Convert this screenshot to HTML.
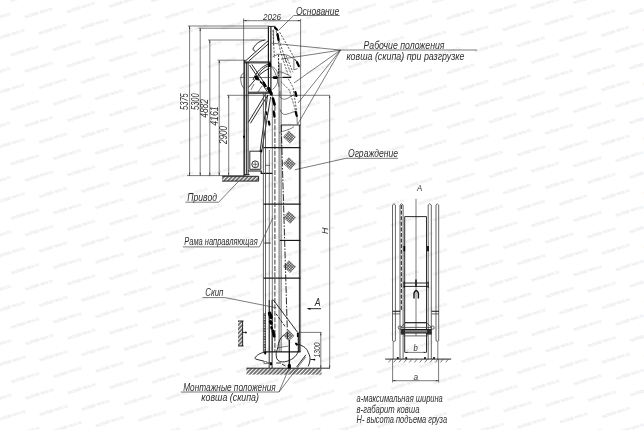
<!DOCTYPE html>
<html><head><meta charset="utf-8">
<style>
html,body{margin:0;padding:0;background:#fff;}
body{width:644px;height:430px;overflow:hidden;}
svg{display:block;}
text{font-family:"Liberation Sans",sans-serif;font-style:italic;fill:#303030;}
.t{stroke:#2a2a2a;stroke-width:.62;fill:none;}
.m{stroke:#151515;stroke-width:.9;fill:none;}
.k{stroke:#1a1a1a;stroke-width:1.15;fill:none;}
.g{stroke:#4a4a4a;stroke-width:.85;fill:none;}
.d{stroke:#222;stroke-width:.7;fill:none;stroke-dasharray:2.2 1.2;}
.wm text{font-style:normal;fill:#e4e4e4;font-size:5px;}
</style></head><body>
<svg width="644" height="430" viewBox="0 0 644 430">
<defs>
<pattern id="hz" width="2.83" height="2.83" patternUnits="userSpaceOnUse" patternTransform="rotate(44)"><line x1="1" y1="0" x2="1" y2="2.83" stroke="#4a4a4a" stroke-width="1.45"/></pattern>
<pattern id="mesh" width="1.9" height="1.9" patternUnits="userSpaceOnUse"><path d="M0 .5H1.9M.5 0V1.9" stroke="#2a2a2a" stroke-width=".62" fill="none"/></pattern>
</defs>
<rect width="644" height="430" fill="#fff"/>
<!-- watermark -->
<g class="wm" text-anchor="middle" opacity=".999">
<text transform="translate(347.8 -7.9) rotate(-18)" y="1.5" textLength="29" lengthAdjust="spacingAndGlyphs">techlab-tera.ru</text>
<text transform="translate(488.4 -7.4) rotate(-18)" y="1.5" textLength="29" lengthAdjust="spacingAndGlyphs">techlab-tera.ru</text>
<text transform="translate(629.0 -6.8) rotate(-18)" y="1.5" textLength="29" lengthAdjust="spacingAndGlyphs">techlab-tera.ru</text>
<text transform="translate(24.4 -3.7) rotate(-18)" y="1.5" textLength="29" lengthAdjust="spacingAndGlyphs">techlab-tera.ru</text>
<text transform="translate(165.0 -3.2) rotate(-18)" y="1.5" textLength="29" lengthAdjust="spacingAndGlyphs">techlab-tera.ru</text>
<text transform="translate(305.6 -2.6) rotate(-18)" y="1.5" textLength="29" lengthAdjust="spacingAndGlyphs">techlab-tera.ru</text>
<text transform="translate(446.2 -2.1) rotate(-18)" y="1.5" textLength="29" lengthAdjust="spacingAndGlyphs">techlab-tera.ru</text>
<text transform="translate(586.8 -1.5) rotate(-18)" y="1.5" textLength="29" lengthAdjust="spacingAndGlyphs">techlab-tera.ru</text>
<text transform="translate(-17.8 1.6) rotate(-18)" y="1.5" textLength="29" lengthAdjust="spacingAndGlyphs">techlab-tera.ru</text>
<text transform="translate(122.8 2.1) rotate(-18)" y="1.5" textLength="29" lengthAdjust="spacingAndGlyphs">techlab-tera.ru</text>
<text transform="translate(263.4 2.7) rotate(-18)" y="1.5" textLength="29" lengthAdjust="spacingAndGlyphs">techlab-tera.ru</text>
<text transform="translate(404.0 3.2) rotate(-18)" y="1.5" textLength="29" lengthAdjust="spacingAndGlyphs">techlab-tera.ru</text>
<text transform="translate(544.6 3.7) rotate(-18)" y="1.5" textLength="29" lengthAdjust="spacingAndGlyphs">techlab-tera.ru</text>
<text transform="translate(80.6 7.4) rotate(-18)" y="1.5" textLength="29" lengthAdjust="spacingAndGlyphs">techlab-tera.ru</text>
<text transform="translate(221.2 7.9) rotate(-18)" y="1.5" textLength="29" lengthAdjust="spacingAndGlyphs">techlab-tera.ru</text>
<text transform="translate(361.9 8.5) rotate(-18)" y="1.5" textLength="29" lengthAdjust="spacingAndGlyphs">techlab-tera.ru</text>
<text transform="translate(502.5 9.0) rotate(-18)" y="1.5" textLength="29" lengthAdjust="spacingAndGlyphs">techlab-tera.ru</text>
<text transform="translate(643.1 9.6) rotate(-18)" y="1.5" textLength="29" lengthAdjust="spacingAndGlyphs">techlab-tera.ru</text>
<text transform="translate(38.5 12.7) rotate(-18)" y="1.5" textLength="29" lengthAdjust="spacingAndGlyphs">techlab-tera.ru</text>
<text transform="translate(179.1 13.2) rotate(-18)" y="1.5" textLength="29" lengthAdjust="spacingAndGlyphs">techlab-tera.ru</text>
<text transform="translate(319.7 13.8) rotate(-18)" y="1.5" textLength="29" lengthAdjust="spacingAndGlyphs">techlab-tera.ru</text>
<text transform="translate(460.3 14.3) rotate(-18)" y="1.5" textLength="29" lengthAdjust="spacingAndGlyphs">techlab-tera.ru</text>
<text transform="translate(600.9 14.8) rotate(-18)" y="1.5" textLength="29" lengthAdjust="spacingAndGlyphs">techlab-tera.ru</text>
<text transform="translate(-3.7 18.0) rotate(-18)" y="1.5" textLength="29" lengthAdjust="spacingAndGlyphs">techlab-tera.ru</text>
<text transform="translate(136.9 18.5) rotate(-18)" y="1.5" textLength="29" lengthAdjust="spacingAndGlyphs">techlab-tera.ru</text>
<text transform="translate(277.5 19.0) rotate(-18)" y="1.5" textLength="29" lengthAdjust="spacingAndGlyphs">techlab-tera.ru</text>
<text transform="translate(418.1 19.6) rotate(-18)" y="1.5" textLength="29" lengthAdjust="spacingAndGlyphs">techlab-tera.ru</text>
<text transform="translate(558.7 20.1) rotate(-18)" y="1.5" textLength="29" lengthAdjust="spacingAndGlyphs">techlab-tera.ru</text>
<text transform="translate(94.7 23.8) rotate(-18)" y="1.5" textLength="29" lengthAdjust="spacingAndGlyphs">techlab-tera.ru</text>
<text transform="translate(235.3 24.3) rotate(-18)" y="1.5" textLength="29" lengthAdjust="spacingAndGlyphs">techlab-tera.ru</text>
<text transform="translate(376.0 24.9) rotate(-18)" y="1.5" textLength="29" lengthAdjust="spacingAndGlyphs">techlab-tera.ru</text>
<text transform="translate(516.6 25.4) rotate(-18)" y="1.5" textLength="29" lengthAdjust="spacingAndGlyphs">techlab-tera.ru</text>
<text transform="translate(657.2 26.0) rotate(-18)" y="1.5" textLength="29" lengthAdjust="spacingAndGlyphs">techlab-tera.ru</text>
<text transform="translate(52.5 29.1) rotate(-18)" y="1.5" textLength="29" lengthAdjust="spacingAndGlyphs">techlab-tera.ru</text>
<text transform="translate(193.2 29.6) rotate(-18)" y="1.5" textLength="29" lengthAdjust="spacingAndGlyphs">techlab-tera.ru</text>
<text transform="translate(333.8 30.2) rotate(-18)" y="1.5" textLength="29" lengthAdjust="spacingAndGlyphs">techlab-tera.ru</text>
<text transform="translate(474.4 30.7) rotate(-18)" y="1.5" textLength="29" lengthAdjust="spacingAndGlyphs">techlab-tera.ru</text>
<text transform="translate(615.0 31.2) rotate(-18)" y="1.5" textLength="29" lengthAdjust="spacingAndGlyphs">techlab-tera.ru</text>
<text transform="translate(10.4 34.4) rotate(-18)" y="1.5" textLength="29" lengthAdjust="spacingAndGlyphs">techlab-tera.ru</text>
<text transform="translate(151.0 34.9) rotate(-18)" y="1.5" textLength="29" lengthAdjust="spacingAndGlyphs">techlab-tera.ru</text>
<text transform="translate(291.6 35.4) rotate(-18)" y="1.5" textLength="29" lengthAdjust="spacingAndGlyphs">techlab-tera.ru</text>
<text transform="translate(432.2 36.0) rotate(-18)" y="1.5" textLength="29" lengthAdjust="spacingAndGlyphs">techlab-tera.ru</text>
<text transform="translate(572.8 36.5) rotate(-18)" y="1.5" textLength="29" lengthAdjust="spacingAndGlyphs">techlab-tera.ru</text>
<text transform="translate(108.8 40.2) rotate(-18)" y="1.5" textLength="29" lengthAdjust="spacingAndGlyphs">techlab-tera.ru</text>
<text transform="translate(249.4 40.7) rotate(-18)" y="1.5" textLength="29" lengthAdjust="spacingAndGlyphs">techlab-tera.ru</text>
<text transform="translate(390.1 41.3) rotate(-18)" y="1.5" textLength="29" lengthAdjust="spacingAndGlyphs">techlab-tera.ru</text>
<text transform="translate(530.7 41.8) rotate(-18)" y="1.5" textLength="29" lengthAdjust="spacingAndGlyphs">techlab-tera.ru</text>
<text transform="translate(66.6 45.5) rotate(-18)" y="1.5" textLength="29" lengthAdjust="spacingAndGlyphs">techlab-tera.ru</text>
<text transform="translate(207.3 46.0) rotate(-18)" y="1.5" textLength="29" lengthAdjust="spacingAndGlyphs">techlab-tera.ru</text>
<text transform="translate(347.9 46.5) rotate(-18)" y="1.5" textLength="29" lengthAdjust="spacingAndGlyphs">techlab-tera.ru</text>
<text transform="translate(488.5 47.1) rotate(-18)" y="1.5" textLength="29" lengthAdjust="spacingAndGlyphs">techlab-tera.ru</text>
<text transform="translate(629.1 47.6) rotate(-18)" y="1.5" textLength="29" lengthAdjust="spacingAndGlyphs">techlab-tera.ru</text>
<text transform="translate(24.5 50.7) rotate(-18)" y="1.5" textLength="29" lengthAdjust="spacingAndGlyphs">techlab-tera.ru</text>
<text transform="translate(165.1 51.3) rotate(-18)" y="1.5" textLength="29" lengthAdjust="spacingAndGlyphs">techlab-tera.ru</text>
<text transform="translate(305.7 51.8) rotate(-18)" y="1.5" textLength="29" lengthAdjust="spacingAndGlyphs">techlab-tera.ru</text>
<text transform="translate(446.3 52.4) rotate(-18)" y="1.5" textLength="29" lengthAdjust="spacingAndGlyphs">techlab-tera.ru</text>
<text transform="translate(586.9 52.9) rotate(-18)" y="1.5" textLength="29" lengthAdjust="spacingAndGlyphs">techlab-tera.ru</text>
<text transform="translate(-17.7 56.0) rotate(-18)" y="1.5" textLength="29" lengthAdjust="spacingAndGlyphs">techlab-tera.ru</text>
<text transform="translate(122.9 56.6) rotate(-18)" y="1.5" textLength="29" lengthAdjust="spacingAndGlyphs">techlab-tera.ru</text>
<text transform="translate(263.5 57.1) rotate(-18)" y="1.5" textLength="29" lengthAdjust="spacingAndGlyphs">techlab-tera.ru</text>
<text transform="translate(404.1 57.7) rotate(-18)" y="1.5" textLength="29" lengthAdjust="spacingAndGlyphs">techlab-tera.ru</text>
<text transform="translate(544.8 58.2) rotate(-18)" y="1.5" textLength="29" lengthAdjust="spacingAndGlyphs">techlab-tera.ru</text>
<text transform="translate(80.7 61.9) rotate(-18)" y="1.5" textLength="29" lengthAdjust="spacingAndGlyphs">techlab-tera.ru</text>
<text transform="translate(221.4 62.4) rotate(-18)" y="1.5" textLength="29" lengthAdjust="spacingAndGlyphs">techlab-tera.ru</text>
<text transform="translate(362.0 62.9) rotate(-18)" y="1.5" textLength="29" lengthAdjust="spacingAndGlyphs">techlab-tera.ru</text>
<text transform="translate(502.6 63.5) rotate(-18)" y="1.5" textLength="29" lengthAdjust="spacingAndGlyphs">techlab-tera.ru</text>
<text transform="translate(643.2 64.0) rotate(-18)" y="1.5" textLength="29" lengthAdjust="spacingAndGlyphs">techlab-tera.ru</text>
<text transform="translate(38.6 67.1) rotate(-18)" y="1.5" textLength="29" lengthAdjust="spacingAndGlyphs">techlab-tera.ru</text>
<text transform="translate(179.2 67.7) rotate(-18)" y="1.5" textLength="29" lengthAdjust="spacingAndGlyphs">techlab-tera.ru</text>
<text transform="translate(319.8 68.2) rotate(-18)" y="1.5" textLength="29" lengthAdjust="spacingAndGlyphs">techlab-tera.ru</text>
<text transform="translate(460.4 68.8) rotate(-18)" y="1.5" textLength="29" lengthAdjust="spacingAndGlyphs">techlab-tera.ru</text>
<text transform="translate(601.0 69.3) rotate(-18)" y="1.5" textLength="29" lengthAdjust="spacingAndGlyphs">techlab-tera.ru</text>
<text transform="translate(-3.6 72.4) rotate(-18)" y="1.5" textLength="29" lengthAdjust="spacingAndGlyphs">techlab-tera.ru</text>
<text transform="translate(137.0 73.0) rotate(-18)" y="1.5" textLength="29" lengthAdjust="spacingAndGlyphs">techlab-tera.ru</text>
<text transform="translate(277.6 73.5) rotate(-18)" y="1.5" textLength="29" lengthAdjust="spacingAndGlyphs">techlab-tera.ru</text>
<text transform="translate(418.2 74.0) rotate(-18)" y="1.5" textLength="29" lengthAdjust="spacingAndGlyphs">techlab-tera.ru</text>
<text transform="translate(558.9 74.6) rotate(-18)" y="1.5" textLength="29" lengthAdjust="spacingAndGlyphs">techlab-tera.ru</text>
<text transform="translate(94.8 78.2) rotate(-18)" y="1.5" textLength="29" lengthAdjust="spacingAndGlyphs">techlab-tera.ru</text>
<text transform="translate(235.5 78.8) rotate(-18)" y="1.5" textLength="29" lengthAdjust="spacingAndGlyphs">techlab-tera.ru</text>
<text transform="translate(376.1 79.3) rotate(-18)" y="1.5" textLength="29" lengthAdjust="spacingAndGlyphs">techlab-tera.ru</text>
<text transform="translate(516.7 79.9) rotate(-18)" y="1.5" textLength="29" lengthAdjust="spacingAndGlyphs">techlab-tera.ru</text>
<text transform="translate(657.3 80.4) rotate(-18)" y="1.5" textLength="29" lengthAdjust="spacingAndGlyphs">techlab-tera.ru</text>
<text transform="translate(52.7 83.5) rotate(-18)" y="1.5" textLength="29" lengthAdjust="spacingAndGlyphs">techlab-tera.ru</text>
<text transform="translate(193.3 84.1) rotate(-18)" y="1.5" textLength="29" lengthAdjust="spacingAndGlyphs">techlab-tera.ru</text>
<text transform="translate(333.9 84.6) rotate(-18)" y="1.5" textLength="29" lengthAdjust="spacingAndGlyphs">techlab-tera.ru</text>
<text transform="translate(474.5 85.1) rotate(-18)" y="1.5" textLength="29" lengthAdjust="spacingAndGlyphs">techlab-tera.ru</text>
<text transform="translate(615.1 85.7) rotate(-18)" y="1.5" textLength="29" lengthAdjust="spacingAndGlyphs">techlab-tera.ru</text>
<text transform="translate(10.5 88.8) rotate(-18)" y="1.5" textLength="29" lengthAdjust="spacingAndGlyphs">techlab-tera.ru</text>
<text transform="translate(151.1 89.4) rotate(-18)" y="1.5" textLength="29" lengthAdjust="spacingAndGlyphs">techlab-tera.ru</text>
<text transform="translate(291.7 89.9) rotate(-18)" y="1.5" textLength="29" lengthAdjust="spacingAndGlyphs">techlab-tera.ru</text>
<text transform="translate(432.3 90.4) rotate(-18)" y="1.5" textLength="29" lengthAdjust="spacingAndGlyphs">techlab-tera.ru</text>
<text transform="translate(573.0 91.0) rotate(-18)" y="1.5" textLength="29" lengthAdjust="spacingAndGlyphs">techlab-tera.ru</text>
<text transform="translate(108.9 94.6) rotate(-18)" y="1.5" textLength="29" lengthAdjust="spacingAndGlyphs">techlab-tera.ru</text>
<text transform="translate(249.6 95.2) rotate(-18)" y="1.5" textLength="29" lengthAdjust="spacingAndGlyphs">techlab-tera.ru</text>
<text transform="translate(390.2 95.7) rotate(-18)" y="1.5" textLength="29" lengthAdjust="spacingAndGlyphs">techlab-tera.ru</text>
<text transform="translate(530.8 96.3) rotate(-18)" y="1.5" textLength="29" lengthAdjust="spacingAndGlyphs">techlab-tera.ru</text>
<text transform="translate(66.8 99.9) rotate(-18)" y="1.5" textLength="29" lengthAdjust="spacingAndGlyphs">techlab-tera.ru</text>
<text transform="translate(207.4 100.5) rotate(-18)" y="1.5" textLength="29" lengthAdjust="spacingAndGlyphs">techlab-tera.ru</text>
<text transform="translate(348.0 101.0) rotate(-18)" y="1.5" textLength="29" lengthAdjust="spacingAndGlyphs">techlab-tera.ru</text>
<text transform="translate(488.6 101.5) rotate(-18)" y="1.5" textLength="29" lengthAdjust="spacingAndGlyphs">techlab-tera.ru</text>
<text transform="translate(629.2 102.1) rotate(-18)" y="1.5" textLength="29" lengthAdjust="spacingAndGlyphs">techlab-tera.ru</text>
<text transform="translate(24.6 105.2) rotate(-18)" y="1.5" textLength="29" lengthAdjust="spacingAndGlyphs">techlab-tera.ru</text>
<text transform="translate(165.2 105.7) rotate(-18)" y="1.5" textLength="29" lengthAdjust="spacingAndGlyphs">techlab-tera.ru</text>
<text transform="translate(305.8 106.3) rotate(-18)" y="1.5" textLength="29" lengthAdjust="spacingAndGlyphs">techlab-tera.ru</text>
<text transform="translate(446.4 106.8) rotate(-18)" y="1.5" textLength="29" lengthAdjust="spacingAndGlyphs">techlab-tera.ru</text>
<text transform="translate(587.1 107.4) rotate(-18)" y="1.5" textLength="29" lengthAdjust="spacingAndGlyphs">techlab-tera.ru</text>
<text transform="translate(-17.6 110.5) rotate(-18)" y="1.5" textLength="29" lengthAdjust="spacingAndGlyphs">techlab-tera.ru</text>
<text transform="translate(123.0 111.0) rotate(-18)" y="1.5" textLength="29" lengthAdjust="spacingAndGlyphs">techlab-tera.ru</text>
<text transform="translate(263.6 111.6) rotate(-18)" y="1.5" textLength="29" lengthAdjust="spacingAndGlyphs">techlab-tera.ru</text>
<text transform="translate(404.3 112.1) rotate(-18)" y="1.5" textLength="29" lengthAdjust="spacingAndGlyphs">techlab-tera.ru</text>
<text transform="translate(544.9 112.6) rotate(-18)" y="1.5" textLength="29" lengthAdjust="spacingAndGlyphs">techlab-tera.ru</text>
<text transform="translate(80.9 116.3) rotate(-18)" y="1.5" textLength="29" lengthAdjust="spacingAndGlyphs">techlab-tera.ru</text>
<text transform="translate(221.5 116.8) rotate(-18)" y="1.5" textLength="29" lengthAdjust="spacingAndGlyphs">techlab-tera.ru</text>
<text transform="translate(362.1 117.4) rotate(-18)" y="1.5" textLength="29" lengthAdjust="spacingAndGlyphs">techlab-tera.ru</text>
<text transform="translate(502.7 117.9) rotate(-18)" y="1.5" textLength="29" lengthAdjust="spacingAndGlyphs">techlab-tera.ru</text>
<text transform="translate(643.3 118.5) rotate(-18)" y="1.5" textLength="29" lengthAdjust="spacingAndGlyphs">techlab-tera.ru</text>
<text transform="translate(38.7 121.6) rotate(-18)" y="1.5" textLength="29" lengthAdjust="spacingAndGlyphs">techlab-tera.ru</text>
<text transform="translate(179.3 122.1) rotate(-18)" y="1.5" textLength="29" lengthAdjust="spacingAndGlyphs">techlab-tera.ru</text>
<text transform="translate(319.9 122.7) rotate(-18)" y="1.5" textLength="29" lengthAdjust="spacingAndGlyphs">techlab-tera.ru</text>
<text transform="translate(460.5 123.2) rotate(-18)" y="1.5" textLength="29" lengthAdjust="spacingAndGlyphs">techlab-tera.ru</text>
<text transform="translate(601.2 123.8) rotate(-18)" y="1.5" textLength="29" lengthAdjust="spacingAndGlyphs">techlab-tera.ru</text>
<text transform="translate(-3.5 126.9) rotate(-18)" y="1.5" textLength="29" lengthAdjust="spacingAndGlyphs">techlab-tera.ru</text>
<text transform="translate(137.1 127.4) rotate(-18)" y="1.5" textLength="29" lengthAdjust="spacingAndGlyphs">techlab-tera.ru</text>
<text transform="translate(277.7 128.0) rotate(-18)" y="1.5" textLength="29" lengthAdjust="spacingAndGlyphs">techlab-tera.ru</text>
<text transform="translate(418.4 128.5) rotate(-18)" y="1.5" textLength="29" lengthAdjust="spacingAndGlyphs">techlab-tera.ru</text>
<text transform="translate(559.0 129.0) rotate(-18)" y="1.5" textLength="29" lengthAdjust="spacingAndGlyphs">techlab-tera.ru</text>
<text transform="translate(95.0 132.7) rotate(-18)" y="1.5" textLength="29" lengthAdjust="spacingAndGlyphs">techlab-tera.ru</text>
<text transform="translate(235.6 133.2) rotate(-18)" y="1.5" textLength="29" lengthAdjust="spacingAndGlyphs">techlab-tera.ru</text>
<text transform="translate(376.2 133.8) rotate(-18)" y="1.5" textLength="29" lengthAdjust="spacingAndGlyphs">techlab-tera.ru</text>
<text transform="translate(516.8 134.3) rotate(-18)" y="1.5" textLength="29" lengthAdjust="spacingAndGlyphs">techlab-tera.ru</text>
<text transform="translate(657.4 134.9) rotate(-18)" y="1.5" textLength="29" lengthAdjust="spacingAndGlyphs">techlab-tera.ru</text>
<text transform="translate(52.8 138.0) rotate(-18)" y="1.5" textLength="29" lengthAdjust="spacingAndGlyphs">techlab-tera.ru</text>
<text transform="translate(193.4 138.5) rotate(-18)" y="1.5" textLength="29" lengthAdjust="spacingAndGlyphs">techlab-tera.ru</text>
<text transform="translate(334.0 139.1) rotate(-18)" y="1.5" textLength="29" lengthAdjust="spacingAndGlyphs">techlab-tera.ru</text>
<text transform="translate(474.6 139.6) rotate(-18)" y="1.5" textLength="29" lengthAdjust="spacingAndGlyphs">techlab-tera.ru</text>
<text transform="translate(615.2 140.1) rotate(-18)" y="1.5" textLength="29" lengthAdjust="spacingAndGlyphs">techlab-tera.ru</text>
<text transform="translate(10.6 143.3) rotate(-18)" y="1.5" textLength="29" lengthAdjust="spacingAndGlyphs">techlab-tera.ru</text>
<text transform="translate(151.2 143.8) rotate(-18)" y="1.5" textLength="29" lengthAdjust="spacingAndGlyphs">techlab-tera.ru</text>
<text transform="translate(291.8 144.3) rotate(-18)" y="1.5" textLength="29" lengthAdjust="spacingAndGlyphs">techlab-tera.ru</text>
<text transform="translate(432.5 144.9) rotate(-18)" y="1.5" textLength="29" lengthAdjust="spacingAndGlyphs">techlab-tera.ru</text>
<text transform="translate(573.1 145.4) rotate(-18)" y="1.5" textLength="29" lengthAdjust="spacingAndGlyphs">techlab-tera.ru</text>
<text transform="translate(109.1 149.1) rotate(-18)" y="1.5" textLength="29" lengthAdjust="spacingAndGlyphs">techlab-tera.ru</text>
<text transform="translate(249.7 149.6) rotate(-18)" y="1.5" textLength="29" lengthAdjust="spacingAndGlyphs">techlab-tera.ru</text>
<text transform="translate(390.3 150.2) rotate(-18)" y="1.5" textLength="29" lengthAdjust="spacingAndGlyphs">techlab-tera.ru</text>
<text transform="translate(530.9 150.7) rotate(-18)" y="1.5" textLength="29" lengthAdjust="spacingAndGlyphs">techlab-tera.ru</text>
<text transform="translate(66.9 154.4) rotate(-18)" y="1.5" textLength="29" lengthAdjust="spacingAndGlyphs">techlab-tera.ru</text>
<text transform="translate(207.5 154.9) rotate(-18)" y="1.5" textLength="29" lengthAdjust="spacingAndGlyphs">techlab-tera.ru</text>
<text transform="translate(348.1 155.5) rotate(-18)" y="1.5" textLength="29" lengthAdjust="spacingAndGlyphs">techlab-tera.ru</text>
<text transform="translate(488.7 156.0) rotate(-18)" y="1.5" textLength="29" lengthAdjust="spacingAndGlyphs">techlab-tera.ru</text>
<text transform="translate(629.3 156.5) rotate(-18)" y="1.5" textLength="29" lengthAdjust="spacingAndGlyphs">techlab-tera.ru</text>
<text transform="translate(24.7 159.7) rotate(-18)" y="1.5" textLength="29" lengthAdjust="spacingAndGlyphs">techlab-tera.ru</text>
<text transform="translate(165.3 160.2) rotate(-18)" y="1.5" textLength="29" lengthAdjust="spacingAndGlyphs">techlab-tera.ru</text>
<text transform="translate(305.9 160.7) rotate(-18)" y="1.5" textLength="29" lengthAdjust="spacingAndGlyphs">techlab-tera.ru</text>
<text transform="translate(446.6 161.3) rotate(-18)" y="1.5" textLength="29" lengthAdjust="spacingAndGlyphs">techlab-tera.ru</text>
<text transform="translate(587.2 161.8) rotate(-18)" y="1.5" textLength="29" lengthAdjust="spacingAndGlyphs">techlab-tera.ru</text>
<text transform="translate(-17.5 164.9) rotate(-18)" y="1.5" textLength="29" lengthAdjust="spacingAndGlyphs">techlab-tera.ru</text>
<text transform="translate(123.2 165.5) rotate(-18)" y="1.5" textLength="29" lengthAdjust="spacingAndGlyphs">techlab-tera.ru</text>
<text transform="translate(263.8 166.0) rotate(-18)" y="1.5" textLength="29" lengthAdjust="spacingAndGlyphs">techlab-tera.ru</text>
<text transform="translate(404.4 166.6) rotate(-18)" y="1.5" textLength="29" lengthAdjust="spacingAndGlyphs">techlab-tera.ru</text>
<text transform="translate(545.0 167.1) rotate(-18)" y="1.5" textLength="29" lengthAdjust="spacingAndGlyphs">techlab-tera.ru</text>
<text transform="translate(81.0 170.8) rotate(-18)" y="1.5" textLength="29" lengthAdjust="spacingAndGlyphs">techlab-tera.ru</text>
<text transform="translate(221.6 171.3) rotate(-18)" y="1.5" textLength="29" lengthAdjust="spacingAndGlyphs">techlab-tera.ru</text>
<text transform="translate(362.2 171.8) rotate(-18)" y="1.5" textLength="29" lengthAdjust="spacingAndGlyphs">techlab-tera.ru</text>
<text transform="translate(502.8 172.4) rotate(-18)" y="1.5" textLength="29" lengthAdjust="spacingAndGlyphs">techlab-tera.ru</text>
<text transform="translate(643.4 172.9) rotate(-18)" y="1.5" textLength="29" lengthAdjust="spacingAndGlyphs">techlab-tera.ru</text>
<text transform="translate(38.8 176.0) rotate(-18)" y="1.5" textLength="29" lengthAdjust="spacingAndGlyphs">techlab-tera.ru</text>
<text transform="translate(179.4 176.6) rotate(-18)" y="1.5" textLength="29" lengthAdjust="spacingAndGlyphs">techlab-tera.ru</text>
<text transform="translate(320.0 177.1) rotate(-18)" y="1.5" textLength="29" lengthAdjust="spacingAndGlyphs">techlab-tera.ru</text>
<text transform="translate(460.7 177.7) rotate(-18)" y="1.5" textLength="29" lengthAdjust="spacingAndGlyphs">techlab-tera.ru</text>
<text transform="translate(601.3 178.2) rotate(-18)" y="1.5" textLength="29" lengthAdjust="spacingAndGlyphs">techlab-tera.ru</text>
<text transform="translate(-3.4 181.3) rotate(-18)" y="1.5" textLength="29" lengthAdjust="spacingAndGlyphs">techlab-tera.ru</text>
<text transform="translate(137.2 181.9) rotate(-18)" y="1.5" textLength="29" lengthAdjust="spacingAndGlyphs">techlab-tera.ru</text>
<text transform="translate(277.9 182.4) rotate(-18)" y="1.5" textLength="29" lengthAdjust="spacingAndGlyphs">techlab-tera.ru</text>
<text transform="translate(418.5 182.9) rotate(-18)" y="1.5" textLength="29" lengthAdjust="spacingAndGlyphs">techlab-tera.ru</text>
<text transform="translate(559.1 183.5) rotate(-18)" y="1.5" textLength="29" lengthAdjust="spacingAndGlyphs">techlab-tera.ru</text>
<text transform="translate(95.1 187.2) rotate(-18)" y="1.5" textLength="29" lengthAdjust="spacingAndGlyphs">techlab-tera.ru</text>
<text transform="translate(235.7 187.7) rotate(-18)" y="1.5" textLength="29" lengthAdjust="spacingAndGlyphs">techlab-tera.ru</text>
<text transform="translate(376.3 188.2) rotate(-18)" y="1.5" textLength="29" lengthAdjust="spacingAndGlyphs">techlab-tera.ru</text>
<text transform="translate(516.9 188.8) rotate(-18)" y="1.5" textLength="29" lengthAdjust="spacingAndGlyphs">techlab-tera.ru</text>
<text transform="translate(657.5 189.3) rotate(-18)" y="1.5" textLength="29" lengthAdjust="spacingAndGlyphs">techlab-tera.ru</text>
<text transform="translate(52.9 192.4) rotate(-18)" y="1.5" textLength="29" lengthAdjust="spacingAndGlyphs">techlab-tera.ru</text>
<text transform="translate(193.5 193.0) rotate(-18)" y="1.5" textLength="29" lengthAdjust="spacingAndGlyphs">techlab-tera.ru</text>
<text transform="translate(334.1 193.5) rotate(-18)" y="1.5" textLength="29" lengthAdjust="spacingAndGlyphs">techlab-tera.ru</text>
<text transform="translate(474.8 194.1) rotate(-18)" y="1.5" textLength="29" lengthAdjust="spacingAndGlyphs">techlab-tera.ru</text>
<text transform="translate(615.4 194.6) rotate(-18)" y="1.5" textLength="29" lengthAdjust="spacingAndGlyphs">techlab-tera.ru</text>
<text transform="translate(10.7 197.7) rotate(-18)" y="1.5" textLength="29" lengthAdjust="spacingAndGlyphs">techlab-tera.ru</text>
<text transform="translate(151.3 198.3) rotate(-18)" y="1.5" textLength="29" lengthAdjust="spacingAndGlyphs">techlab-tera.ru</text>
<text transform="translate(292.0 198.8) rotate(-18)" y="1.5" textLength="29" lengthAdjust="spacingAndGlyphs">techlab-tera.ru</text>
<text transform="translate(432.6 199.3) rotate(-18)" y="1.5" textLength="29" lengthAdjust="spacingAndGlyphs">techlab-tera.ru</text>
<text transform="translate(573.2 199.9) rotate(-18)" y="1.5" textLength="29" lengthAdjust="spacingAndGlyphs">techlab-tera.ru</text>
<text transform="translate(109.2 203.5) rotate(-18)" y="1.5" textLength="29" lengthAdjust="spacingAndGlyphs">techlab-tera.ru</text>
<text transform="translate(249.8 204.1) rotate(-18)" y="1.5" textLength="29" lengthAdjust="spacingAndGlyphs">techlab-tera.ru</text>
<text transform="translate(390.4 204.6) rotate(-18)" y="1.5" textLength="29" lengthAdjust="spacingAndGlyphs">techlab-tera.ru</text>
<text transform="translate(531.0 205.2) rotate(-18)" y="1.5" textLength="29" lengthAdjust="spacingAndGlyphs">techlab-tera.ru</text>
<text transform="translate(67.0 208.8) rotate(-18)" y="1.5" textLength="29" lengthAdjust="spacingAndGlyphs">techlab-tera.ru</text>
<text transform="translate(207.6 209.4) rotate(-18)" y="1.5" textLength="29" lengthAdjust="spacingAndGlyphs">techlab-tera.ru</text>
<text transform="translate(348.2 209.9) rotate(-18)" y="1.5" textLength="29" lengthAdjust="spacingAndGlyphs">techlab-tera.ru</text>
<text transform="translate(488.8 210.4) rotate(-18)" y="1.5" textLength="29" lengthAdjust="spacingAndGlyphs">techlab-tera.ru</text>
<text transform="translate(629.5 211.0) rotate(-18)" y="1.5" textLength="29" lengthAdjust="spacingAndGlyphs">techlab-tera.ru</text>
<text transform="translate(24.8 214.1) rotate(-18)" y="1.5" textLength="29" lengthAdjust="spacingAndGlyphs">techlab-tera.ru</text>
<text transform="translate(165.4 214.6) rotate(-18)" y="1.5" textLength="29" lengthAdjust="spacingAndGlyphs">techlab-tera.ru</text>
<text transform="translate(306.1 215.2) rotate(-18)" y="1.5" textLength="29" lengthAdjust="spacingAndGlyphs">techlab-tera.ru</text>
<text transform="translate(446.7 215.7) rotate(-18)" y="1.5" textLength="29" lengthAdjust="spacingAndGlyphs">techlab-tera.ru</text>
<text transform="translate(587.3 216.3) rotate(-18)" y="1.5" textLength="29" lengthAdjust="spacingAndGlyphs">techlab-tera.ru</text>
<text transform="translate(-17.3 219.4) rotate(-18)" y="1.5" textLength="29" lengthAdjust="spacingAndGlyphs">techlab-tera.ru</text>
<text transform="translate(123.3 219.9) rotate(-18)" y="1.5" textLength="29" lengthAdjust="spacingAndGlyphs">techlab-tera.ru</text>
<text transform="translate(263.9 220.5) rotate(-18)" y="1.5" textLength="29" lengthAdjust="spacingAndGlyphs">techlab-tera.ru</text>
<text transform="translate(404.5 221.0) rotate(-18)" y="1.5" textLength="29" lengthAdjust="spacingAndGlyphs">techlab-tera.ru</text>
<text transform="translate(545.1 221.6) rotate(-18)" y="1.5" textLength="29" lengthAdjust="spacingAndGlyphs">techlab-tera.ru</text>
<text transform="translate(81.1 225.2) rotate(-18)" y="1.5" textLength="29" lengthAdjust="spacingAndGlyphs">techlab-tera.ru</text>
<text transform="translate(221.7 225.8) rotate(-18)" y="1.5" textLength="29" lengthAdjust="spacingAndGlyphs">techlab-tera.ru</text>
<text transform="translate(362.3 226.3) rotate(-18)" y="1.5" textLength="29" lengthAdjust="spacingAndGlyphs">techlab-tera.ru</text>
<text transform="translate(502.9 226.8) rotate(-18)" y="1.5" textLength="29" lengthAdjust="spacingAndGlyphs">techlab-tera.ru</text>
<text transform="translate(643.6 227.4) rotate(-18)" y="1.5" textLength="29" lengthAdjust="spacingAndGlyphs">techlab-tera.ru</text>
<text transform="translate(38.9 230.5) rotate(-18)" y="1.5" textLength="29" lengthAdjust="spacingAndGlyphs">techlab-tera.ru</text>
<text transform="translate(179.5 231.0) rotate(-18)" y="1.5" textLength="29" lengthAdjust="spacingAndGlyphs">techlab-tera.ru</text>
<text transform="translate(320.2 231.6) rotate(-18)" y="1.5" textLength="29" lengthAdjust="spacingAndGlyphs">techlab-tera.ru</text>
<text transform="translate(460.8 232.1) rotate(-18)" y="1.5" textLength="29" lengthAdjust="spacingAndGlyphs">techlab-tera.ru</text>
<text transform="translate(601.4 232.7) rotate(-18)" y="1.5" textLength="29" lengthAdjust="spacingAndGlyphs">techlab-tera.ru</text>
<text transform="translate(-3.2 235.8) rotate(-18)" y="1.5" textLength="29" lengthAdjust="spacingAndGlyphs">techlab-tera.ru</text>
<text transform="translate(137.4 236.3) rotate(-18)" y="1.5" textLength="29" lengthAdjust="spacingAndGlyphs">techlab-tera.ru</text>
<text transform="translate(278.0 236.9) rotate(-18)" y="1.5" textLength="29" lengthAdjust="spacingAndGlyphs">techlab-tera.ru</text>
<text transform="translate(418.6 237.4) rotate(-18)" y="1.5" textLength="29" lengthAdjust="spacingAndGlyphs">techlab-tera.ru</text>
<text transform="translate(559.2 237.9) rotate(-18)" y="1.5" textLength="29" lengthAdjust="spacingAndGlyphs">techlab-tera.ru</text>
<text transform="translate(95.2 241.6) rotate(-18)" y="1.5" textLength="29" lengthAdjust="spacingAndGlyphs">techlab-tera.ru</text>
<text transform="translate(235.8 242.1) rotate(-18)" y="1.5" textLength="29" lengthAdjust="spacingAndGlyphs">techlab-tera.ru</text>
<text transform="translate(376.4 242.7) rotate(-18)" y="1.5" textLength="29" lengthAdjust="spacingAndGlyphs">techlab-tera.ru</text>
<text transform="translate(517.0 243.2) rotate(-18)" y="1.5" textLength="29" lengthAdjust="spacingAndGlyphs">techlab-tera.ru</text>
<text transform="translate(657.7 243.8) rotate(-18)" y="1.5" textLength="29" lengthAdjust="spacingAndGlyphs">techlab-tera.ru</text>
<text transform="translate(53.0 246.9) rotate(-18)" y="1.5" textLength="29" lengthAdjust="spacingAndGlyphs">techlab-tera.ru</text>
<text transform="translate(193.6 247.4) rotate(-18)" y="1.5" textLength="29" lengthAdjust="spacingAndGlyphs">techlab-tera.ru</text>
<text transform="translate(334.3 248.0) rotate(-18)" y="1.5" textLength="29" lengthAdjust="spacingAndGlyphs">techlab-tera.ru</text>
<text transform="translate(474.9 248.5) rotate(-18)" y="1.5" textLength="29" lengthAdjust="spacingAndGlyphs">techlab-tera.ru</text>
<text transform="translate(615.5 249.1) rotate(-18)" y="1.5" textLength="29" lengthAdjust="spacingAndGlyphs">techlab-tera.ru</text>
<text transform="translate(10.8 252.2) rotate(-18)" y="1.5" textLength="29" lengthAdjust="spacingAndGlyphs">techlab-tera.ru</text>
<text transform="translate(151.5 252.7) rotate(-18)" y="1.5" textLength="29" lengthAdjust="spacingAndGlyphs">techlab-tera.ru</text>
<text transform="translate(292.1 253.3) rotate(-18)" y="1.5" textLength="29" lengthAdjust="spacingAndGlyphs">techlab-tera.ru</text>
<text transform="translate(432.7 253.8) rotate(-18)" y="1.5" textLength="29" lengthAdjust="spacingAndGlyphs">techlab-tera.ru</text>
<text transform="translate(573.3 254.3) rotate(-18)" y="1.5" textLength="29" lengthAdjust="spacingAndGlyphs">techlab-tera.ru</text>
<text transform="translate(109.3 258.0) rotate(-18)" y="1.5" textLength="29" lengthAdjust="spacingAndGlyphs">techlab-tera.ru</text>
<text transform="translate(249.9 258.5) rotate(-18)" y="1.5" textLength="29" lengthAdjust="spacingAndGlyphs">techlab-tera.ru</text>
<text transform="translate(390.5 259.1) rotate(-18)" y="1.5" textLength="29" lengthAdjust="spacingAndGlyphs">techlab-tera.ru</text>
<text transform="translate(531.1 259.6) rotate(-18)" y="1.5" textLength="29" lengthAdjust="spacingAndGlyphs">techlab-tera.ru</text>
<text transform="translate(67.1 263.3) rotate(-18)" y="1.5" textLength="29" lengthAdjust="spacingAndGlyphs">techlab-tera.ru</text>
<text transform="translate(207.7 263.8) rotate(-18)" y="1.5" textLength="29" lengthAdjust="spacingAndGlyphs">techlab-tera.ru</text>
<text transform="translate(348.3 264.4) rotate(-18)" y="1.5" textLength="29" lengthAdjust="spacingAndGlyphs">techlab-tera.ru</text>
<text transform="translate(489.0 264.9) rotate(-18)" y="1.5" textLength="29" lengthAdjust="spacingAndGlyphs">techlab-tera.ru</text>
<text transform="translate(629.6 265.4) rotate(-18)" y="1.5" textLength="29" lengthAdjust="spacingAndGlyphs">techlab-tera.ru</text>
<text transform="translate(24.9 268.6) rotate(-18)" y="1.5" textLength="29" lengthAdjust="spacingAndGlyphs">techlab-tera.ru</text>
<text transform="translate(165.6 269.1) rotate(-18)" y="1.5" textLength="29" lengthAdjust="spacingAndGlyphs">techlab-tera.ru</text>
<text transform="translate(306.2 269.6) rotate(-18)" y="1.5" textLength="29" lengthAdjust="spacingAndGlyphs">techlab-tera.ru</text>
<text transform="translate(446.8 270.2) rotate(-18)" y="1.5" textLength="29" lengthAdjust="spacingAndGlyphs">techlab-tera.ru</text>
<text transform="translate(587.4 270.7) rotate(-18)" y="1.5" textLength="29" lengthAdjust="spacingAndGlyphs">techlab-tera.ru</text>
<text transform="translate(-17.2 273.8) rotate(-18)" y="1.5" textLength="29" lengthAdjust="spacingAndGlyphs">techlab-tera.ru</text>
<text transform="translate(123.4 274.4) rotate(-18)" y="1.5" textLength="29" lengthAdjust="spacingAndGlyphs">techlab-tera.ru</text>
<text transform="translate(264.0 274.9) rotate(-18)" y="1.5" textLength="29" lengthAdjust="spacingAndGlyphs">techlab-tera.ru</text>
<text transform="translate(404.6 275.5) rotate(-18)" y="1.5" textLength="29" lengthAdjust="spacingAndGlyphs">techlab-tera.ru</text>
<text transform="translate(545.2 276.0) rotate(-18)" y="1.5" textLength="29" lengthAdjust="spacingAndGlyphs">techlab-tera.ru</text>
<text transform="translate(81.2 279.7) rotate(-18)" y="1.5" textLength="29" lengthAdjust="spacingAndGlyphs">techlab-tera.ru</text>
<text transform="translate(221.8 280.2) rotate(-18)" y="1.5" textLength="29" lengthAdjust="spacingAndGlyphs">techlab-tera.ru</text>
<text transform="translate(362.4 280.7) rotate(-18)" y="1.5" textLength="29" lengthAdjust="spacingAndGlyphs">techlab-tera.ru</text>
<text transform="translate(503.1 281.3) rotate(-18)" y="1.5" textLength="29" lengthAdjust="spacingAndGlyphs">techlab-tera.ru</text>
<text transform="translate(643.7 281.8) rotate(-18)" y="1.5" textLength="29" lengthAdjust="spacingAndGlyphs">techlab-tera.ru</text>
<text transform="translate(39.0 284.9) rotate(-18)" y="1.5" textLength="29" lengthAdjust="spacingAndGlyphs">techlab-tera.ru</text>
<text transform="translate(179.7 285.5) rotate(-18)" y="1.5" textLength="29" lengthAdjust="spacingAndGlyphs">techlab-tera.ru</text>
<text transform="translate(320.3 286.0) rotate(-18)" y="1.5" textLength="29" lengthAdjust="spacingAndGlyphs">techlab-tera.ru</text>
<text transform="translate(460.9 286.6) rotate(-18)" y="1.5" textLength="29" lengthAdjust="spacingAndGlyphs">techlab-tera.ru</text>
<text transform="translate(601.5 287.1) rotate(-18)" y="1.5" textLength="29" lengthAdjust="spacingAndGlyphs">techlab-tera.ru</text>
<text transform="translate(-3.1 290.2) rotate(-18)" y="1.5" textLength="29" lengthAdjust="spacingAndGlyphs">techlab-tera.ru</text>
<text transform="translate(137.5 290.8) rotate(-18)" y="1.5" textLength="29" lengthAdjust="spacingAndGlyphs">techlab-tera.ru</text>
<text transform="translate(278.1 291.3) rotate(-18)" y="1.5" textLength="29" lengthAdjust="spacingAndGlyphs">techlab-tera.ru</text>
<text transform="translate(418.7 291.9) rotate(-18)" y="1.5" textLength="29" lengthAdjust="spacingAndGlyphs">techlab-tera.ru</text>
<text transform="translate(559.3 292.4) rotate(-18)" y="1.5" textLength="29" lengthAdjust="spacingAndGlyphs">techlab-tera.ru</text>
<text transform="translate(95.3 296.1) rotate(-18)" y="1.5" textLength="29" lengthAdjust="spacingAndGlyphs">techlab-tera.ru</text>
<text transform="translate(235.9 296.6) rotate(-18)" y="1.5" textLength="29" lengthAdjust="spacingAndGlyphs">techlab-tera.ru</text>
<text transform="translate(376.5 297.1) rotate(-18)" y="1.5" textLength="29" lengthAdjust="spacingAndGlyphs">techlab-tera.ru</text>
<text transform="translate(517.2 297.7) rotate(-18)" y="1.5" textLength="29" lengthAdjust="spacingAndGlyphs">techlab-tera.ru</text>
<text transform="translate(657.8 298.2) rotate(-18)" y="1.5" textLength="29" lengthAdjust="spacingAndGlyphs">techlab-tera.ru</text>
<text transform="translate(53.1 301.3) rotate(-18)" y="1.5" textLength="29" lengthAdjust="spacingAndGlyphs">techlab-tera.ru</text>
<text transform="translate(193.8 301.9) rotate(-18)" y="1.5" textLength="29" lengthAdjust="spacingAndGlyphs">techlab-tera.ru</text>
<text transform="translate(334.4 302.4) rotate(-18)" y="1.5" textLength="29" lengthAdjust="spacingAndGlyphs">techlab-tera.ru</text>
<text transform="translate(475.0 303.0) rotate(-18)" y="1.5" textLength="29" lengthAdjust="spacingAndGlyphs">techlab-tera.ru</text>
<text transform="translate(615.6 303.5) rotate(-18)" y="1.5" textLength="29" lengthAdjust="spacingAndGlyphs">techlab-tera.ru</text>
<text transform="translate(11.0 306.6) rotate(-18)" y="1.5" textLength="29" lengthAdjust="spacingAndGlyphs">techlab-tera.ru</text>
<text transform="translate(151.6 307.2) rotate(-18)" y="1.5" textLength="29" lengthAdjust="spacingAndGlyphs">techlab-tera.ru</text>
<text transform="translate(292.2 307.7) rotate(-18)" y="1.5" textLength="29" lengthAdjust="spacingAndGlyphs">techlab-tera.ru</text>
<text transform="translate(432.8 308.2) rotate(-18)" y="1.5" textLength="29" lengthAdjust="spacingAndGlyphs">techlab-tera.ru</text>
<text transform="translate(573.4 308.8) rotate(-18)" y="1.5" textLength="29" lengthAdjust="spacingAndGlyphs">techlab-tera.ru</text>
<text transform="translate(109.4 312.4) rotate(-18)" y="1.5" textLength="29" lengthAdjust="spacingAndGlyphs">techlab-tera.ru</text>
<text transform="translate(250.0 313.0) rotate(-18)" y="1.5" textLength="29" lengthAdjust="spacingAndGlyphs">techlab-tera.ru</text>
<text transform="translate(390.6 313.5) rotate(-18)" y="1.5" textLength="29" lengthAdjust="spacingAndGlyphs">techlab-tera.ru</text>
<text transform="translate(531.3 314.1) rotate(-18)" y="1.5" textLength="29" lengthAdjust="spacingAndGlyphs">techlab-tera.ru</text>
<text transform="translate(67.2 317.7) rotate(-18)" y="1.5" textLength="29" lengthAdjust="spacingAndGlyphs">techlab-tera.ru</text>
<text transform="translate(207.9 318.3) rotate(-18)" y="1.5" textLength="29" lengthAdjust="spacingAndGlyphs">techlab-tera.ru</text>
<text transform="translate(348.5 318.8) rotate(-18)" y="1.5" textLength="29" lengthAdjust="spacingAndGlyphs">techlab-tera.ru</text>
<text transform="translate(489.1 319.4) rotate(-18)" y="1.5" textLength="29" lengthAdjust="spacingAndGlyphs">techlab-tera.ru</text>
<text transform="translate(629.7 319.9) rotate(-18)" y="1.5" textLength="29" lengthAdjust="spacingAndGlyphs">techlab-tera.ru</text>
<text transform="translate(25.1 323.0) rotate(-18)" y="1.5" textLength="29" lengthAdjust="spacingAndGlyphs">techlab-tera.ru</text>
<text transform="translate(165.7 323.6) rotate(-18)" y="1.5" textLength="29" lengthAdjust="spacingAndGlyphs">techlab-tera.ru</text>
<text transform="translate(306.3 324.1) rotate(-18)" y="1.5" textLength="29" lengthAdjust="spacingAndGlyphs">techlab-tera.ru</text>
<text transform="translate(446.9 324.6) rotate(-18)" y="1.5" textLength="29" lengthAdjust="spacingAndGlyphs">techlab-tera.ru</text>
<text transform="translate(587.5 325.2) rotate(-18)" y="1.5" textLength="29" lengthAdjust="spacingAndGlyphs">techlab-tera.ru</text>
<text transform="translate(-17.1 328.3) rotate(-18)" y="1.5" textLength="29" lengthAdjust="spacingAndGlyphs">techlab-tera.ru</text>
<text transform="translate(123.5 328.8) rotate(-18)" y="1.5" textLength="29" lengthAdjust="spacingAndGlyphs">techlab-tera.ru</text>
<text transform="translate(264.1 329.4) rotate(-18)" y="1.5" textLength="29" lengthAdjust="spacingAndGlyphs">techlab-tera.ru</text>
<text transform="translate(404.7 329.9) rotate(-18)" y="1.5" textLength="29" lengthAdjust="spacingAndGlyphs">techlab-tera.ru</text>
<text transform="translate(545.4 330.5) rotate(-18)" y="1.5" textLength="29" lengthAdjust="spacingAndGlyphs">techlab-tera.ru</text>
<text transform="translate(81.3 334.1) rotate(-18)" y="1.5" textLength="29" lengthAdjust="spacingAndGlyphs">techlab-tera.ru</text>
<text transform="translate(221.9 334.7) rotate(-18)" y="1.5" textLength="29" lengthAdjust="spacingAndGlyphs">techlab-tera.ru</text>
<text transform="translate(362.6 335.2) rotate(-18)" y="1.5" textLength="29" lengthAdjust="spacingAndGlyphs">techlab-tera.ru</text>
<text transform="translate(503.2 335.7) rotate(-18)" y="1.5" textLength="29" lengthAdjust="spacingAndGlyphs">techlab-tera.ru</text>
<text transform="translate(643.8 336.3) rotate(-18)" y="1.5" textLength="29" lengthAdjust="spacingAndGlyphs">techlab-tera.ru</text>
<text transform="translate(39.2 339.4) rotate(-18)" y="1.5" textLength="29" lengthAdjust="spacingAndGlyphs">techlab-tera.ru</text>
<text transform="translate(179.8 339.9) rotate(-18)" y="1.5" textLength="29" lengthAdjust="spacingAndGlyphs">techlab-tera.ru</text>
<text transform="translate(320.4 340.5) rotate(-18)" y="1.5" textLength="29" lengthAdjust="spacingAndGlyphs">techlab-tera.ru</text>
<text transform="translate(461.0 341.0) rotate(-18)" y="1.5" textLength="29" lengthAdjust="spacingAndGlyphs">techlab-tera.ru</text>
<text transform="translate(601.6 341.6) rotate(-18)" y="1.5" textLength="29" lengthAdjust="spacingAndGlyphs">techlab-tera.ru</text>
<text transform="translate(-3.0 344.7) rotate(-18)" y="1.5" textLength="29" lengthAdjust="spacingAndGlyphs">techlab-tera.ru</text>
<text transform="translate(137.6 345.2) rotate(-18)" y="1.5" textLength="29" lengthAdjust="spacingAndGlyphs">techlab-tera.ru</text>
<text transform="translate(278.2 345.8) rotate(-18)" y="1.5" textLength="29" lengthAdjust="spacingAndGlyphs">techlab-tera.ru</text>
<text transform="translate(418.8 346.3) rotate(-18)" y="1.5" textLength="29" lengthAdjust="spacingAndGlyphs">techlab-tera.ru</text>
<text transform="translate(559.5 346.8) rotate(-18)" y="1.5" textLength="29" lengthAdjust="spacingAndGlyphs">techlab-tera.ru</text>
<text transform="translate(95.4 350.5) rotate(-18)" y="1.5" textLength="29" lengthAdjust="spacingAndGlyphs">techlab-tera.ru</text>
<text transform="translate(236.0 351.1) rotate(-18)" y="1.5" textLength="29" lengthAdjust="spacingAndGlyphs">techlab-tera.ru</text>
<text transform="translate(376.7 351.6) rotate(-18)" y="1.5" textLength="29" lengthAdjust="spacingAndGlyphs">techlab-tera.ru</text>
<text transform="translate(517.3 352.1) rotate(-18)" y="1.5" textLength="29" lengthAdjust="spacingAndGlyphs">techlab-tera.ru</text>
<text transform="translate(657.9 352.7) rotate(-18)" y="1.5" textLength="29" lengthAdjust="spacingAndGlyphs">techlab-tera.ru</text>
<text transform="translate(53.3 355.8) rotate(-18)" y="1.5" textLength="29" lengthAdjust="spacingAndGlyphs">techlab-tera.ru</text>
<text transform="translate(193.9 356.3) rotate(-18)" y="1.5" textLength="29" lengthAdjust="spacingAndGlyphs">techlab-tera.ru</text>
<text transform="translate(334.5 356.9) rotate(-18)" y="1.5" textLength="29" lengthAdjust="spacingAndGlyphs">techlab-tera.ru</text>
<text transform="translate(475.1 357.4) rotate(-18)" y="1.5" textLength="29" lengthAdjust="spacingAndGlyphs">techlab-tera.ru</text>
<text transform="translate(615.7 358.0) rotate(-18)" y="1.5" textLength="29" lengthAdjust="spacingAndGlyphs">techlab-tera.ru</text>
<text transform="translate(11.1 361.1) rotate(-18)" y="1.5" textLength="29" lengthAdjust="spacingAndGlyphs">techlab-tera.ru</text>
<text transform="translate(151.7 361.6) rotate(-18)" y="1.5" textLength="29" lengthAdjust="spacingAndGlyphs">techlab-tera.ru</text>
<text transform="translate(292.3 362.2) rotate(-18)" y="1.5" textLength="29" lengthAdjust="spacingAndGlyphs">techlab-tera.ru</text>
<text transform="translate(432.9 362.7) rotate(-18)" y="1.5" textLength="29" lengthAdjust="spacingAndGlyphs">techlab-tera.ru</text>
<text transform="translate(573.5 363.2) rotate(-18)" y="1.5" textLength="29" lengthAdjust="spacingAndGlyphs">techlab-tera.ru</text>
<text transform="translate(109.5 366.9) rotate(-18)" y="1.5" textLength="29" lengthAdjust="spacingAndGlyphs">techlab-tera.ru</text>
<text transform="translate(250.1 367.4) rotate(-18)" y="1.5" textLength="29" lengthAdjust="spacingAndGlyphs">techlab-tera.ru</text>
<text transform="translate(390.8 368.0) rotate(-18)" y="1.5" textLength="29" lengthAdjust="spacingAndGlyphs">techlab-tera.ru</text>
<text transform="translate(531.4 368.5) rotate(-18)" y="1.5" textLength="29" lengthAdjust="spacingAndGlyphs">techlab-tera.ru</text>
<text transform="translate(67.4 372.2) rotate(-18)" y="1.5" textLength="29" lengthAdjust="spacingAndGlyphs">techlab-tera.ru</text>
<text transform="translate(208.0 372.7) rotate(-18)" y="1.5" textLength="29" lengthAdjust="spacingAndGlyphs">techlab-tera.ru</text>
<text transform="translate(348.6 373.3) rotate(-18)" y="1.5" textLength="29" lengthAdjust="spacingAndGlyphs">techlab-tera.ru</text>
<text transform="translate(489.2 373.8) rotate(-18)" y="1.5" textLength="29" lengthAdjust="spacingAndGlyphs">techlab-tera.ru</text>
<text transform="translate(629.8 374.3) rotate(-18)" y="1.5" textLength="29" lengthAdjust="spacingAndGlyphs">techlab-tera.ru</text>
<text transform="translate(25.2 377.5) rotate(-18)" y="1.5" textLength="29" lengthAdjust="spacingAndGlyphs">techlab-tera.ru</text>
<text transform="translate(165.8 378.0) rotate(-18)" y="1.5" textLength="29" lengthAdjust="spacingAndGlyphs">techlab-tera.ru</text>
<text transform="translate(306.4 378.5) rotate(-18)" y="1.5" textLength="29" lengthAdjust="spacingAndGlyphs">techlab-tera.ru</text>
<text transform="translate(447.0 379.1) rotate(-18)" y="1.5" textLength="29" lengthAdjust="spacingAndGlyphs">techlab-tera.ru</text>
<text transform="translate(587.6 379.6) rotate(-18)" y="1.5" textLength="29" lengthAdjust="spacingAndGlyphs">techlab-tera.ru</text>
<text transform="translate(-17.0 382.7) rotate(-18)" y="1.5" textLength="29" lengthAdjust="spacingAndGlyphs">techlab-tera.ru</text>
<text transform="translate(123.6 383.3) rotate(-18)" y="1.5" textLength="29" lengthAdjust="spacingAndGlyphs">techlab-tera.ru</text>
<text transform="translate(264.2 383.8) rotate(-18)" y="1.5" textLength="29" lengthAdjust="spacingAndGlyphs">techlab-tera.ru</text>
<text transform="translate(404.9 384.4) rotate(-18)" y="1.5" textLength="29" lengthAdjust="spacingAndGlyphs">techlab-tera.ru</text>
<text transform="translate(545.5 384.9) rotate(-18)" y="1.5" textLength="29" lengthAdjust="spacingAndGlyphs">techlab-tera.ru</text>
<text transform="translate(81.5 388.6) rotate(-18)" y="1.5" textLength="29" lengthAdjust="spacingAndGlyphs">techlab-tera.ru</text>
<text transform="translate(222.1 389.1) rotate(-18)" y="1.5" textLength="29" lengthAdjust="spacingAndGlyphs">techlab-tera.ru</text>
<text transform="translate(362.7 389.7) rotate(-18)" y="1.5" textLength="29" lengthAdjust="spacingAndGlyphs">techlab-tera.ru</text>
<text transform="translate(503.3 390.2) rotate(-18)" y="1.5" textLength="29" lengthAdjust="spacingAndGlyphs">techlab-tera.ru</text>
<text transform="translate(643.9 390.7) rotate(-18)" y="1.5" textLength="29" lengthAdjust="spacingAndGlyphs">techlab-tera.ru</text>
<text transform="translate(39.3 393.9) rotate(-18)" y="1.5" textLength="29" lengthAdjust="spacingAndGlyphs">techlab-tera.ru</text>
<text transform="translate(179.9 394.4) rotate(-18)" y="1.5" textLength="29" lengthAdjust="spacingAndGlyphs">techlab-tera.ru</text>
<text transform="translate(320.5 394.9) rotate(-18)" y="1.5" textLength="29" lengthAdjust="spacingAndGlyphs">techlab-tera.ru</text>
<text transform="translate(461.1 395.5) rotate(-18)" y="1.5" textLength="29" lengthAdjust="spacingAndGlyphs">techlab-tera.ru</text>
<text transform="translate(601.7 396.0) rotate(-18)" y="1.5" textLength="29" lengthAdjust="spacingAndGlyphs">techlab-tera.ru</text>
<text transform="translate(-2.9 399.1) rotate(-18)" y="1.5" textLength="29" lengthAdjust="spacingAndGlyphs">techlab-tera.ru</text>
<text transform="translate(137.7 399.7) rotate(-18)" y="1.5" textLength="29" lengthAdjust="spacingAndGlyphs">techlab-tera.ru</text>
<text transform="translate(278.3 400.2) rotate(-18)" y="1.5" textLength="29" lengthAdjust="spacingAndGlyphs">techlab-tera.ru</text>
<text transform="translate(419.0 400.8) rotate(-18)" y="1.5" textLength="29" lengthAdjust="spacingAndGlyphs">techlab-tera.ru</text>
<text transform="translate(559.6 401.3) rotate(-18)" y="1.5" textLength="29" lengthAdjust="spacingAndGlyphs">techlab-tera.ru</text>
<text transform="translate(95.5 405.0) rotate(-18)" y="1.5" textLength="29" lengthAdjust="spacingAndGlyphs">techlab-tera.ru</text>
<text transform="translate(236.2 405.5) rotate(-18)" y="1.5" textLength="29" lengthAdjust="spacingAndGlyphs">techlab-tera.ru</text>
<text transform="translate(376.8 406.0) rotate(-18)" y="1.5" textLength="29" lengthAdjust="spacingAndGlyphs">techlab-tera.ru</text>
<text transform="translate(517.4 406.6) rotate(-18)" y="1.5" textLength="29" lengthAdjust="spacingAndGlyphs">techlab-tera.ru</text>
<text transform="translate(658.0 407.1) rotate(-18)" y="1.5" textLength="29" lengthAdjust="spacingAndGlyphs">techlab-tera.ru</text>
<text transform="translate(53.4 410.2) rotate(-18)" y="1.5" textLength="29" lengthAdjust="spacingAndGlyphs">techlab-tera.ru</text>
<text transform="translate(194.0 410.8) rotate(-18)" y="1.5" textLength="29" lengthAdjust="spacingAndGlyphs">techlab-tera.ru</text>
<text transform="translate(334.6 411.3) rotate(-18)" y="1.5" textLength="29" lengthAdjust="spacingAndGlyphs">techlab-tera.ru</text>
<text transform="translate(475.2 411.9) rotate(-18)" y="1.5" textLength="29" lengthAdjust="spacingAndGlyphs">techlab-tera.ru</text>
<text transform="translate(615.8 412.4) rotate(-18)" y="1.5" textLength="29" lengthAdjust="spacingAndGlyphs">techlab-tera.ru</text>
<text transform="translate(11.2 415.5) rotate(-18)" y="1.5" textLength="29" lengthAdjust="spacingAndGlyphs">techlab-tera.ru</text>
<text transform="translate(151.8 416.1) rotate(-18)" y="1.5" textLength="29" lengthAdjust="spacingAndGlyphs">techlab-tera.ru</text>
<text transform="translate(292.4 416.6) rotate(-18)" y="1.5" textLength="29" lengthAdjust="spacingAndGlyphs">techlab-tera.ru</text>
<text transform="translate(433.0 417.2) rotate(-18)" y="1.5" textLength="29" lengthAdjust="spacingAndGlyphs">techlab-tera.ru</text>
<text transform="translate(573.7 417.7) rotate(-18)" y="1.5" textLength="29" lengthAdjust="spacingAndGlyphs">techlab-tera.ru</text>
<text transform="translate(109.6 421.4) rotate(-18)" y="1.5" textLength="29" lengthAdjust="spacingAndGlyphs">techlab-tera.ru</text>
<text transform="translate(250.3 421.9) rotate(-18)" y="1.5" textLength="29" lengthAdjust="spacingAndGlyphs">techlab-tera.ru</text>
<text transform="translate(390.9 422.4) rotate(-18)" y="1.5" textLength="29" lengthAdjust="spacingAndGlyphs">techlab-tera.ru</text>
<text transform="translate(531.5 423.0) rotate(-18)" y="1.5" textLength="29" lengthAdjust="spacingAndGlyphs">techlab-tera.ru</text>
<text transform="translate(67.5 426.6) rotate(-18)" y="1.5" textLength="29" lengthAdjust="spacingAndGlyphs">techlab-tera.ru</text>
<text transform="translate(208.1 427.2) rotate(-18)" y="1.5" textLength="29" lengthAdjust="spacingAndGlyphs">techlab-tera.ru</text>
<text transform="translate(348.7 427.7) rotate(-18)" y="1.5" textLength="29" lengthAdjust="spacingAndGlyphs">techlab-tera.ru</text>
<text transform="translate(489.3 428.3) rotate(-18)" y="1.5" textLength="29" lengthAdjust="spacingAndGlyphs">techlab-tera.ru</text>
<text transform="translate(629.9 428.8) rotate(-18)" y="1.5" textLength="29" lengthAdjust="spacingAndGlyphs">techlab-tera.ru</text>
<text transform="translate(25.3 431.9) rotate(-18)" y="1.5" textLength="29" lengthAdjust="spacingAndGlyphs">techlab-tera.ru</text>
<text transform="translate(165.9 432.5) rotate(-18)" y="1.5" textLength="29" lengthAdjust="spacingAndGlyphs">techlab-tera.ru</text>
<text transform="translate(306.5 433.0) rotate(-18)" y="1.5" textLength="29" lengthAdjust="spacingAndGlyphs">techlab-tera.ru</text>
<text transform="translate(447.1 433.5) rotate(-18)" y="1.5" textLength="29" lengthAdjust="spacingAndGlyphs">techlab-tera.ru</text>
<text transform="translate(587.8 434.1) rotate(-18)" y="1.5" textLength="29" lengthAdjust="spacingAndGlyphs">techlab-tera.ru</text>
<text transform="translate(-16.9 437.2) rotate(-18)" y="1.5" textLength="29" lengthAdjust="spacingAndGlyphs">techlab-tera.ru</text>
<text transform="translate(123.7 437.7) rotate(-18)" y="1.5" textLength="29" lengthAdjust="spacingAndGlyphs">techlab-tera.ru</text>
</g>

<!-- ===== LEFT DIMENSIONS ===== -->
<g class="t">
<line x1="189.6" y1="26" x2="189.6" y2="176"/>
<line x1="200.2" y1="28.2" x2="200.2" y2="176"/>
<line x1="209.8" y1="40" x2="209.8" y2="176"/>
<line x1="219.2" y1="60.2" x2="219.2" y2="176"/>
<line x1="228.7" y1="95.3" x2="228.7" y2="176"/>
<line x1="188" y1="26" x2="269.3" y2="26"/>
<line x1="198.6" y1="28.2" x2="269.3" y2="28.2"/>
<line x1="208" y1="40" x2="266" y2="40"/>
<line x1="217.6" y1="60.2" x2="246" y2="60.2"/>
<line x1="227" y1="95.3" x2="329.7" y2="95.3"/>
<line x1="187" y1="175.6" x2="245.9" y2="175.6"/>
<!-- 2026 -->
<line x1="243.6" y1="18.5" x2="243.6" y2="176"/>
<line x1="243.6" y1="20.7" x2="300.6" y2="20.7"/>
<line x1="300.6" y1="19" x2="300.6" y2="352"/>
<!-- H -->
<line x1="329.7" y1="95.3" x2="329.7" y2="368.2"/>
<!-- 1300 -->
<line x1="298.5" y1="332.4" x2="321.6" y2="332.4"/>
<line x1="320.8" y1="332.5" x2="320.8" y2="368.2"/>
</g>
<g font-size="9.5" opacity=".999">
<text transform="translate(188.2,110) rotate(-90)" font-size="10" fill="#3a3a3a" textLength="16.8" lengthAdjust="spacingAndGlyphs">5375</text>
<text transform="translate(198.7,110) rotate(-90)" font-size="10" fill="#3a3a3a" textLength="16.6" lengthAdjust="spacingAndGlyphs">5300</text>
<text transform="translate(208.4,117.8) rotate(-90)" font-size="10" fill="#3a3a3a" textLength="18.8" lengthAdjust="spacingAndGlyphs">4882</text>
<text transform="translate(217.8,125.8) rotate(-90)" font-size="10" fill="#3a3a3a" textLength="19.4" lengthAdjust="spacingAndGlyphs">4161</text>
<text transform="translate(227.4,144) rotate(-90)" font-size="10" fill="#3a3a3a" textLength="18" lengthAdjust="spacingAndGlyphs">2900</text>
<text x="263" y="20" font-size="9.6" textLength="18" lengthAdjust="spacingAndGlyphs">2026</text>
<text transform="translate(327.6,234) rotate(-90)" font-size="9">H</text>
<text transform="translate(319.6,357.4) rotate(-90)" font-size="8.5" textLength="14.8" lengthAdjust="spacingAndGlyphs">1300</text>
<text x="314.8" y="306.2" font-size="10.5" textLength="5.8" lengthAdjust="spacingAndGlyphs">A</text>
</g>
<!-- dim arrowheads -->
<path d="M392.6 380.7L395.4 380.1L395.4 381.2zM438.6 380.7L435.8 381.2L435.8 380.1zM404.7 352.4L407.5 351.8L407.5 352.9zM426.5 352.4L423.7 352.9L423.7 351.8zM243.6 20.7L246.4 20.1L246.4 21.2zM300.6 20.7L297.8 21.2L297.8 20.1zM329.7 95.3L330.2 98.1L329.1 98.1zM329.7 368.2L329.1 365.4L330.2 365.4zM320.8 332.4L321.4 335.2L320.2 335.2zM320.8 368.2L320.2 365.4L321.4 365.4zM189.6 26.0L190.2 28.8L189.0 28.8zM189.6 175.6L189.0 172.8L190.2 172.8zM200.2 28.2L200.8 31.0L199.6 31.0zM200.2 175.6L199.6 172.8L200.8 172.8zM209.8 40.0L210.4 42.8L209.2 42.8zM209.8 175.6L209.2 172.8L210.4 172.8zM219.2 60.2L219.8 63.0L218.6 63.0zM219.2 175.6L218.6 172.8L219.8 172.8zM228.7 95.3L229.2 98.1L228.1 98.1zM228.7 175.6L228.1 172.8L229.2 172.8z" fill="#222" stroke="none"/>
<!-- arrow A -->
<line class="m" x1="308" y1="308.7" x2="321" y2="308.7"/>
<path d="M306.5 308.7l4 -1v2z" fill="#111"/>

<!-- ===== LABELS ===== -->
<g font-size="11.5" opacity=".999">
<text x="296" y="14.6" textLength="43.2" lengthAdjust="spacingAndGlyphs">Основание</text>
<text x="363.5" y="48.5" textLength="81" lengthAdjust="spacingAndGlyphs">Рабочие положения</text>
<text x="346.4" y="59.5" textLength="118" lengthAdjust="spacingAndGlyphs">ковша (скипа) при разгрузке</text>
<text x="348" y="157" textLength="50" lengthAdjust="spacingAndGlyphs">Ограждение</text>
<text x="187.2" y="201" textLength="29.8" lengthAdjust="spacingAndGlyphs">Привод</text>
<text x="184.2" y="245.2" textLength="73.6" lengthAdjust="spacingAndGlyphs">Рама направляющая</text>
<text x="205.2" y="296.2" textLength="18.2" lengthAdjust="spacingAndGlyphs">Скип</text>
<text x="183.2" y="390.6" textLength="92.6" lengthAdjust="spacingAndGlyphs">Монтажные положения</text>
<text x="201.3" y="401" textLength="57.7" lengthAdjust="spacingAndGlyphs">ковша (скипа)</text>
<text x="356.6" y="402.3" font-size="10.5" textLength="86.2" lengthAdjust="spacingAndGlyphs">а-максимальная ширина</text>
<text x="356.6" y="412.9" font-size="10.5" textLength="62.9" lengthAdjust="spacingAndGlyphs">в-габарит ковша</text>
<text x="356.6" y="423.1" font-size="10.5" textLength="90.5" lengthAdjust="spacingAndGlyphs">Н- высота подъема груза</text>
<text x="417" y="190.6" font-size="9.5" textLength="5.2" lengthAdjust="spacingAndGlyphs">A</text>
<text x="413.4" y="351.4" font-size="9" textLength="4.3" lengthAdjust="spacingAndGlyphs">b</text>
<text x="413.6" y="379.6" font-size="9" textLength="4.6" lengthAdjust="spacingAndGlyphs">a</text>
</g>
<g class="t">
<!-- leaders -->
<path d="M339.7 15.5H293.7L278.3 30.6"/>
<path d="M477 50H340.5"/>
<path d="M340.5 50.1L271.5 43.1M340.5 50.1L281 59.2M340.5 50.1L294 83M340.5 50.1L298 103M340.5 50.1L297.8 124"/>
<path d="M398 158.3H345.9L294.7 169.8"/>
<path d="M185.3 202.2H218.7L238.2 181.7"/>
<path d="M182.9 246.9H259.4L272.8 218"/>
<path d="M202.4 297.6H225.2L276.4 307.8"/>
<path d="M180.8 392H279L288.8 368.6M279 392L305.8 356.8"/>
</g>

<!-- ===== MAIN ELEVATION ===== -->
<!-- wall hatch at drive -->
<rect x="222" y="176.3" width="36.6" height="4.8" fill="url(#hz)" stroke="none"/>
<path class="m" d="M222 176.3H258.6V181.1H222"/>
<!-- ground hatch -->
<rect x="246.5" y="368.2" width="75" height="6.4" fill="url(#hz)"/>
<line class="m" x1="246.5" y1="368.2" x2="330" y2="368.2"/>
<!-- wall bracket left bottom -->
<rect x="238" y="321" width="4.6" height="25" fill="url(#hz)"/>
<path class="m" d="M242.6 321V346M238 321H243.5M238 346H243.5"/>
<path class="m" d="M242.8 332.4H245.4"/><circle cx="245.9" cy="332.4" r="1" fill="#222"/>

<!-- upper frame -->
<g class="m">
<path d="M268.4 26.4V92.5M270.9 26.4V92.5" stroke-width="1.15"/>
<path d="M268.4 26.4H275.5"/>
<path d="M273.6 29.5V45" class="t"/>
<path d="M244.3 61.9H270.6M244.3 62.9H270.6"/>
<path d="M244.6 60V174.7M246.4 62V174.7M248.1 62V174.7"/>
<path d="M245.4 61L268.3 40.6M248.8 61L268.3 43.9"/>
<path d="M252.8 49.5C254.5 44.8 259 41 264.6 40.1"/>
<path d="M252.8 49.5L255.5 51.5"/>
<path d="M248 92.2H269.4M248 93.3H269.4"/>
<path d="M240 77.5H245.3M249 77.5H284" class="t"/>
<path d="M248.2 122.6L266 93.3M250.4 123.4L268 95"/>
<path d="M267.6 95L260 152M270.6 97L261.6 152"/>
<path d="M249.8 151.2H260.8V169.3H249.8z"/>
<circle cx="255.2" cy="164.3" r="3.4"/>
<path d="M252.6 164.3H257.8M255.2 161.7V166.9" class="t"/>
<path d="M248 171H261.2V173.3H272.5" stroke-width="1.2"/>
<path d="M265 165.4H270" class="t"/>
<!-- left hook -->
<path d="M244.3 73C241.5 73.5 240.6 76 240.8 80C241 84 242.5 87.5 244.3 88.5" class="t"/>
</g>
<path class="k" d="M244 174.7H249.5"/>
<!-- inner mechanism -->
<g class="m">
<path d="M249.5 65L267.3 91.6M251.8 64.4L269.2 90.2"/>
<path d="M248.5 87.4L256.5 78"/>
<path d="M256.5 78C260 71 264 67 269.4 65.5M256.5 78C261 73.5 265 70 269.4 68.5M253 80C256 72 262 66.5 268.4 64"/>
<path d="M272.5 66.5C276.5 69 278.5 73.5 278.3 78C278 83 276 87 272.5 89.5" class="t"/>
<path d="M251 90L254 84M258 92L262 86" class="t"/>
</g>
<path d="M256.5 78L269.4 90.5" stroke="#111" stroke-width="1.5" stroke-dasharray="3.2 1.6" fill="none"/>

<!-- tower verticals -->
<g class="g" stroke-width=".8">
<path d="M263.4 92V352M265.5 92V352"/>
<path d="M279.1 63V352M281.1 63V352"/>
</g>
<g class="m">
<path d="M299.4 125V352"/>
<path d="M281 125H300.6"/>
</g>
<g class="t">
<path d="M269.3 150V352M272.3 92V352"/>
</g>
<path d="M274.9 106V352" stroke="#181818" stroke-width=".85" stroke-dasharray="5 1.4" fill="none"/>
<path d="M281.2 125L287.6 340" stroke="#111" stroke-width=".9" stroke-dasharray="7 1.5 1.5 1.5" fill="none"/>
<!-- dividers -->
<g class="k">
<path d="M263.5 147.6H300.5"/>
<path d="M263.5 204.1H300.5"/>
<path d="M279.8 240.4H300.5"/>
<path d="M263.5 278.1H300.5"/>
<path d="M263.5 351.8H300.5"/>
</g>
<path class="m" d="M264.4 243H270.7"/>
<!-- mesh diamonds -->
<g>
<rect x="-4.8" y="-4.3" width="9.6" height="8.6" fill="url(#mesh)" transform="translate(289.4,137) rotate(42)"/>
<rect x="-4.8" y="-4.3" width="9.6" height="8.6" fill="url(#mesh)" transform="translate(289.4,163.6) rotate(42)"/>
<rect x="-4.8" y="-4.3" width="9.6" height="8.6" fill="url(#mesh)" transform="translate(289.5,217.3) rotate(42)"/>
<rect x="-4.8" y="-4.3" width="9.6" height="8.6" fill="url(#mesh)" transform="translate(289.5,266.6) rotate(42)"/>
<rect x="-4.2" y="-4" width="8.4" height="8" fill="url(#mesh)" transform="translate(288.6,335.5) rotate(45)"/>
</g>
<path class="t" d="M279 133C281 131.5 284 131 287 130C290 129 292.5 128 294 126.5"/>

<!-- working positions (dashed buckets) -->
<g class="d">
<path d="M279.7 32.2L300 68"/>
<path d="M279.2 40.6L286.2 62"/>
<path d="M272.9 30.2L274.4 58"/>
<path d="M276.1 31L280.6 52L288.2 75"/>
<path d="M283.7 54.7L291.1 74.2M286 55.6L293 72.3"/>
<path d="M288.3 78.8L293 87.2L297 113.7"/>
<path d="M280.9 81.6L289.3 90L295.8 111.3"/>
<path d="M278.6 54.7V76" stroke-width="1"/>
</g>
<g class="t">
<!-- bucket 1 -->
<path d="M272.5 57L278.1 54.2L285.5 54.7C289 55.5 292 57.5 293.9 59.3L298.1 62.1"/>
<path d="M293.9 59.3V70M297.6 68.6L293.9 69.8"/>
<path d="M278.1 71.4C282 72 287 74 291.6 77"/>
<!-- bucket 2 -->
<path d="M280 90.8V96.8C281 98.5 283 99.4 284.6 99.2C288 98.8 290 96.6 294.4 94.5"/>
<!-- bucket 3 -->
<path d="M280 109.4C281 112.5 282.8 114.4 284.6 114.5C288 114.4 291 112.5 294.4 111.6"/>
<path d="M297 116.8L297.3 124.5"/>
<path d="M270.7 65.8C273.5 68.5 277 75 279 87"/>
</g>
<path d="M282.7 77.4H291.1" stroke="#111" stroke-width="1.3" fill="none"/>
<!-- black blobs along trajectory -->
<g stroke="#000" stroke-width="2.2" stroke-linecap="round" fill="none">
<path d="M275 27.8L277 29.8"/>
<path d="M277.5 34L278.6 40"/>
<path d="M297 62.3L298.8 66"/>
<path d="M295.4 92L296.4 96"/>
<path d="M295.6 111.8L296.8 116"/>
<path d="M256 77.4L257.2 78.6" stroke-width="3"/>
<path d="M274 77.6H276.6" stroke-width="2.8"/>
<path d="M269.7 64V65.6" stroke-width="3"/>
<path d="M263.4 82.4L265.2 85.6"/>
<path d="M269 88.6L271.2 94" stroke-width="3"/>
<path d="M273 98.6L274.6 104.6" stroke-width="2.6"/>
<path d="M273.8 111.6L274.4 116.6"/>
<path d="M266.4 112l.4 2.4" stroke-width="1.6"/>
<path d="M244 136.3v.8" stroke-width="1.8"/>
<path d="M261.2 150.4l.2 1.2" stroke-width="1.6"/>
<path d="M268.8 121.5L269.4 124.6"/>
</g>

<!-- bottom skip -->
<g class="m">
<path d="M269.2 300V368M272.1 300V368"/>
<path d="M273 299.5L297.9 332.7"/>
<path d="M275.9 313.6L285.7 327.3" stroke-dasharray="3 1.2"/>
<path d="M298.3 333V352" stroke-width="1.1"/>
<path d="M283.8 335C280 338 278.3 342 278 346.6C277.6 349 276.8 351 276.2 352.5"/>
<path d="M278 347.8L288.4 346" class="t"/>
<!-- left bucket -->
<path d="M264.6 352.5C262 352.6 260.5 353.2 258.5 354.5C256.8 355.6 255.6 356.6 255.2 357.7C254.9 358.6 255.2 359 256 359.2L264 361.2"/>
<path d="M264 361.6H266.9V363.6H264z" class="t"/>
<path d="M267 363H272M276.2 363H281M282 364L285.5 366"/>
<!-- centre bucket -->
<path d="M276.2 352.5C276 356 276.4 358.5 277.6 360C279.5 361.8 282 362.2 284.5 361.8C288.5 361.2 291 359.8 293.1 358.3C295.5 356.4 297.5 354 298.3 351.3"/>
<!-- right bucket -->
<path d="M296 343.8C299 344.4 301.5 345.2 303.6 346.6C306 348.2 307.5 350 308.2 352.5C309.5 355 310.2 357 310 359.5C309.9 362 309.3 364.4 308.2 366.4"/>
<path d="M296.6 367L305.9 354.8"/>
<path d="M310.3 359.5H314.5"/>
</g>
<!-- rack on left post -->
<path d="M264.6 313.6V351" stroke="#222" stroke-width="2.2" stroke-dasharray=".8 .8" fill="none"/>
<path d="M289.3 340V368" stroke="#111" stroke-width="1.3" fill="none"/>
<g stroke="#000" stroke-width="2.6" stroke-linecap="round" fill="none">
<path d="M269.6 313.4L271 317.4" stroke-width="3.6"/>
<path d="M270.4 321.6L271.2 323.2" stroke-width="3.2"/>
<path d="M271.4 327.2L271.8 328.6" stroke-width="2.4"/>
<path d="M273 331L274.2 336" stroke-width="3"/>
<path d="M289.3 365.4V367.2" stroke-width="3.2"/>
<path d="M271 363.2V364.6" stroke-width="2"/>
<path d="M265.2 352.4V353.6" stroke-width="2"/>
<path d="M296 343.6L296.8 344.6" stroke-width="2"/>
<path d="M297.6 333.4V336.4" stroke-width="1.4"/>
<path d="M314.2 359.6h.2" stroke-width="1.8"/>
</g>

<!-- ===== SECTION A ===== -->
<g class="m" stroke="#444">
<path d="M416 198.8V336" class="t"/>
<path class="g" d="M392.5 340.8V205Q393.9 202.6 395.4 205V340.8Q393.9 342 392.5 340.8"/>
<path class="g" d="M400 359V205Q401.5 202.6 403.1 205V359"/>
<path class="g" d="M428.2 359V205Q429.7 202.6 431.3 205V359"/>
<path class="g" d="M436 340.8V205Q437.3 202.6 438.7 205V340.8Q437.3 342 436 340.8"/>
<path d="M404.7 352.4V216.6H426.5V352.4"/>
<path d="M393.2 341.5V359M437.8 341.5V359" class="t"/>
<path d="M392.6 311.3H400.2M431.5 311.3H439" stroke-width="1.1"/>
<path class="g" d="M392.6 313.9H400.2M431.5 313.9H439"/>
<path d="M403.5 283H428.6M403.5 286.4H428.6M404 281.5V288M428.2 281.5V288"/>
<path class="g" d="M405 322.7L400.8 327.4H431.6L426.5 322.7"/>
<path d="M405 322.7H426.5" stroke-width="1.15"/>
<path class="g" d="M403.3 335.9H428"/>
</g>
<circle cx="399.8" cy="327.6" r="1.6" class="g"/><circle cx="432.6" cy="327.6" r="1.6" class="g"/>
<path d="M414 298.6V293Q416.2 288 418.4 293V298.6" stroke="#111" stroke-width="1.4" fill="none"/>
<path d="M416 279.6V286.5" stroke="#111" stroke-width="1.5" fill="none"/>
<rect x="400.8" y="329.4" width="30.8" height="3.6" fill="#7c7c7c"/>
<path d="M400.8 329.4H431.6M400.8 333H431.6" stroke="#161616" stroke-width="1.05" fill="none"/>
<rect x="400.8" y="329.4" width="4.2" height="5.2" fill="#2c2c2c"/><rect x="427" y="329.4" width="4.6" height="5.2" fill="#2c2c2c"/>
<path d="M401.3 205V311" stroke="#111" stroke-width="1" stroke-dasharray="4 1.6" fill="none"/>
<path d="M404.3 246V251.2M428 246V251.2" stroke="#000" stroke-width="1.7" fill="none"/>
<!-- ground -->
<path d="M388.5 362.4l2.6-3.2M393.7 362.4l2.6-3.2M398.9 362.4l2.6-3.2M404.1 362.4l2.6-3.2M409.3 362.4l2.6-3.2M414.5 362.4l2.6-3.2M419.7 362.4l2.6-3.2M424.9 362.4l2.6-3.2M430.1 362.4l2.6-3.2M435.3 362.4l2.6-3.2M440.5 362.4l2.6-3.2M445.7 362.4l2.6-3.2" class="t"/>
<line class="m" x1="385.2" y1="359.1" x2="451.2" y2="359.1"/>
<g class="t">
<path d="M404.7 352.4H426.5"/>
<path d="M392.6 359V382.5M438.6 359V382.5M392.6 380.7H438.6"/>
</g>
<g fill="#111"><circle cx="397.8" cy="358.1" r="1.1"/><circle cx="406.2" cy="358.1" r="1.1"/><circle cx="425" cy="358.1" r="1.1"/><circle cx="434" cy="358.1" r="1.1"/></g>
</svg>
</body></html>
